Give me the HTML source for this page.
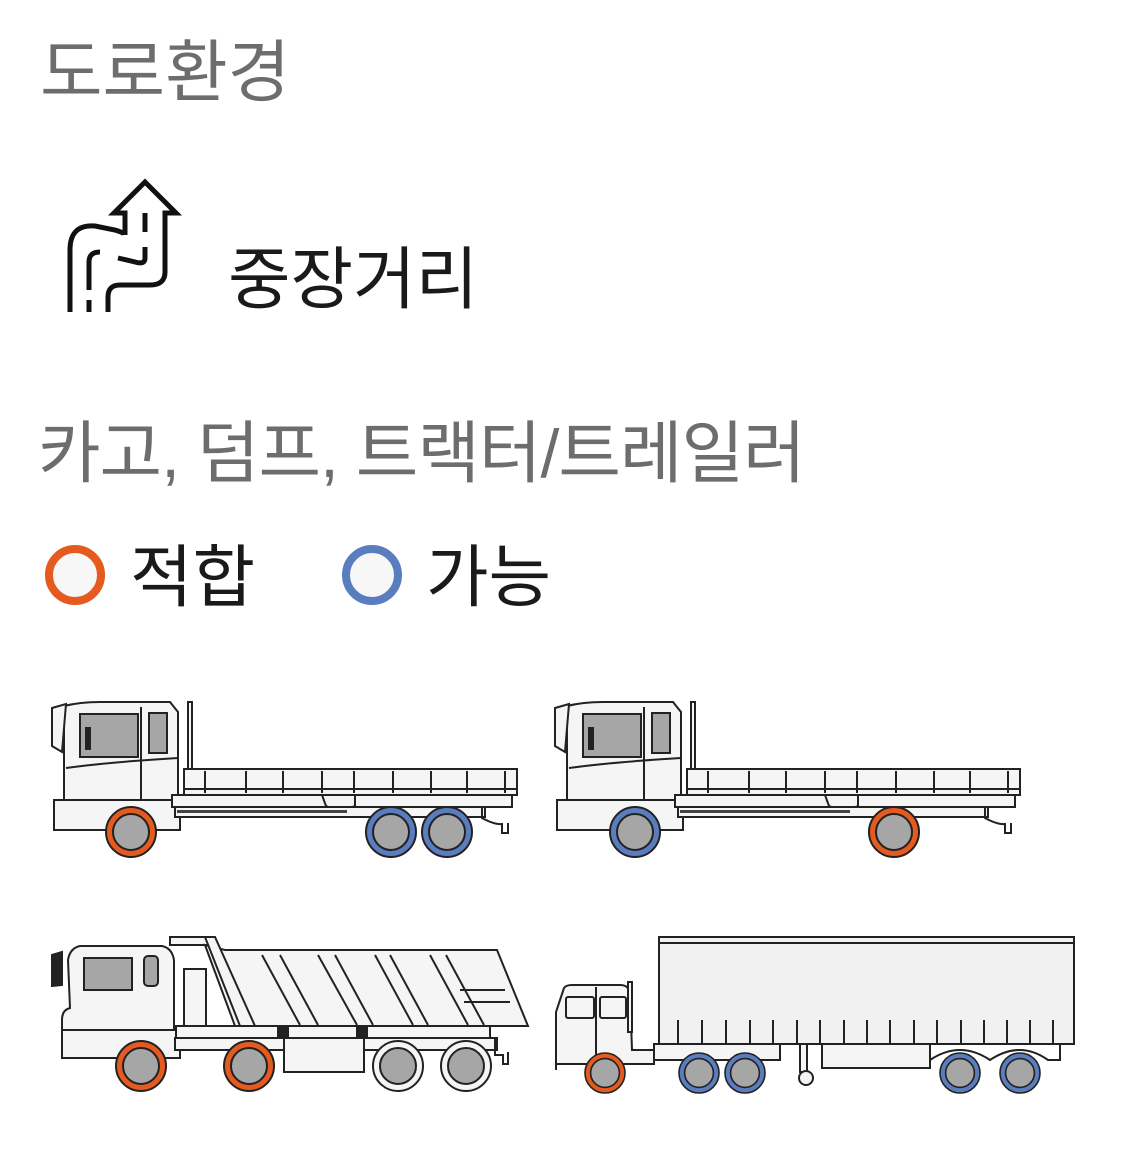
<!DOCTYPE html>
<html><head><meta charset="utf-8"><style>
html,body{margin:0;padding:0;background:#fff;}
body{width:1122px;height:1167px;position:relative;overflow:hidden;font-family:"Liberation Sans","Noto Sans CJK KR",sans-serif;}
.t{position:absolute;white-space:nowrap;line-height:1;}
</style></head><body>
<div class="t" style="left:40px;top:39px;font-size:68px;color:#6d6d6d;">도로환경</div>
<div class="t" style="left:228px;top:246px;font-size:68px;color:#1a1a1a;">중장거리</div>
<div class="t" style="left:38px;top:420px;font-size:68px;color:#6d6d6d;letter-spacing:-1px;">카고, 덤프, 트랙터/트레일러</div>
<div class="t" style="left:130px;top:544px;font-size:68px;color:#1a1a1a;">적합</div>
<div class="t" style="left:426px;top:544px;font-size:68px;color:#1a1a1a;">가능</div>
<svg width="1122" height="1167" style="position:absolute;left:0;top:0" xmlns="http://www.w3.org/2000/svg">
<circle cx="75" cy="575" r="26" fill="#f7f7f7" stroke="#e45a1f" stroke-width="8"/>
<circle cx="372" cy="575" r="26" fill="#f7f7f7" stroke="#5a7dc0" stroke-width="8"/>
<g fill="none" stroke="#111" stroke-width="5" stroke-linecap="butt" stroke-linejoin="miter">
<path d="M125 235 V213 H114 L145 182 L176 213 H165 V272 Q165 285 150 285 L120 285 Q108 285 108 297 V312"/>
<path d="M125 235 Q125 233 115 230 L95 226 Q70 224 70 250 V312"/>
<path d="M145 213 V232 M145 247 V258 Q145 265 135 262 L118 258"/>
<path d="M89 312 V300 M89 290 V262 Q89 252 100 252"/>
</g>
<defs>
<g id="cargo" stroke="#222" stroke-width="2" fill="#f5f5f5">
<path d="M54 800 H180 V830 H54 Z"/>
<path d="M64 706 Q80 702 100 702 H170 L178 712 V800 H64 Z"/>
<path d="M52 708 L66 704 L62 752 L52 746 Z"/>
<path d="M80 714 H138 V757 H80 Z" fill="#a6a6a6"/>
<rect x="85" y="727" width="6" height="23" fill="#222" stroke="none"/>
<rect x="149" y="713" width="18" height="40" fill="#a6a6a6"/>
<line x1="141" y1="707" x2="141" y2="800"/>
<path d="M66 768 Q110 762 178 758" fill="none"/>
<rect x="188" y="702" width="4" height="68"/>
<rect x="184" y="769" width="333" height="26"/>
<g fill="none"><path d="M205 771 V793 M246 771 V793 M283 771 V793 M322 771 V793 M354 771 V793 M393 771 V793 M431 771 V793 M467 771 V793 M505 771 V793 M184 789 H517"/></g>
<rect x="172" y="795" width="340" height="12"/>
<path d="M322 795 H355 V806 Q340 812 326 806 Z"/>
<rect x="175" y="807" width="310" height="10"/>
<rect x="177" y="810" width="170" height="3" fill="#444" stroke="none"/>
<path d="M482 807 V818 Q495 825 502 824 V833 H508 V823" fill="none"/>
</g>
<g id="wh"><circle r="25" stroke="#222" stroke-width="2"/><circle r="18" fill="#a6a6a6" stroke="#222" stroke-width="2"/></g>
</defs>
<use href="#cargo"/>
<use href="#cargo" x="503"/>
<use href="#wh" x="131" y="832" fill="#e45a1f"/>
<use href="#wh" x="391" y="832" fill="#5a7dc0"/>
<use href="#wh" x="447" y="832" fill="#5a7dc0"/>
<use href="#wh" x="635" y="832" fill="#5a7dc0"/>
<use href="#wh" x="894" y="832" fill="#e45a1f"/>
<!-- dump -->
<g stroke="#222" stroke-width="2" fill="#f5f5f5">
<path d="M62 1030 V1020 Q62 1010 70 1008 L68 960 Q70 948 80 946 H162 Q172 948 174 960 V1030 Z"/>
<path d="M62 1030 H180 V1058 H62 Z"/>
<path d="M52 955 L62 952 V985 L52 986 Z" fill="#222"/>
<path d="M84 958 H132 V990 H84 Z" fill="#a6a6a6"/>
<rect x="144" y="956" width="14" height="30" rx="4" fill="#a6a6a6"/>
<rect x="170" y="937" width="40" height="8"/>
<rect x="184" y="969" width="22" height="60"/>
<path d="M205 945 L225 950 H497 L528 1026 H235 Z"/>
<g fill="none"><path d="M262 955 L300 1025 M280 955 L318 1025 M318 955 L357 1025 M335 955 L373 1025 M375 955 L413 1025 M390 955 L428 1025 M430 955 L468 1025 M446 955 L484 1025 M460 990 H505 M464 1002 H510"/></g>
<path d="M205 937 L215 937 L255 1026 H240 Z"/>
<rect x="176" y="1026" width="314" height="12"/>
<rect x="278" y="1026" width="10" height="12" fill="#222"/>
<rect x="357" y="1026" width="10" height="12" fill="#222"/>
<rect x="175" y="1038" width="322" height="12"/>
<rect x="284" y="1038" width="80" height="34"/>
<path d="M495 1038 V1055 H503 V1064 H508 V1052" fill="none"/>
</g>
<use href="#wh" x="141" y="1066" fill="#e45a1f"/>
<use href="#wh" x="249" y="1066" fill="#e45a1f"/>
<use href="#wh" x="398" y="1066" fill="#f5f5f5"/>
<use href="#wh" x="466" y="1066" fill="#f5f5f5"/>
<!-- trailer -->
<g stroke="#222" stroke-width="2" fill="#f5f5f5">
<rect x="659" y="937" width="415" height="107" fill="#f1f1f1"/>
<line x1="659" y1="943" x2="1074" y2="943"/>
<g fill="none"><path d="M678 1020 V1044 M702 1020 V1044 M726 1020 V1044 M750 1020 V1044 M773 1020 V1044 M797 1020 V1044 M820 1020 V1044 M844 1020 V1044 M867 1020 V1044 M890 1020 V1044 M914 1020 V1044 M937 1020 V1044 M961 1020 V1044 M984 1020 V1044 M1007 1020 V1044 M1030 1020 V1044 M1053 1020 V1044"/></g>
<path d="M556 1070 V1012 L564 988 Q566 985 572 985 H620 Q628 985 630 992 L632 1050 H654 V1064 H556 Z"/>
<rect x="566" y="997" width="28" height="21" rx="2"/>
<rect x="600" y="997" width="26" height="21" rx="2"/>
<line x1="596" y1="987" x2="596" y2="1060"/>
<rect x="628" y="982" width="4" height="50"/>
<path d="M654 1044 H780 V1060 H654 Z"/>
<rect x="800" y="1044" width="7" height="28"/>
<circle cx="806" cy="1078" r="7"/>
<rect x="822" y="1044" width="108" height="24"/>
<path d="M930 1060 Q960 1040 990 1060 Q1020 1040 1048 1060 H1060 V1044" fill="none"/>
</g>
<use href="#wh" x="605" y="1073" fill="#e45a1f" transform="translate(605 1073) scale(0.8) translate(-605 -1073)"/>
<use href="#wh" x="699" y="1073" fill="#5a7dc0" transform="translate(699 1073) scale(0.8) translate(-699 -1073)"/>
<use href="#wh" x="745" y="1073" fill="#5a7dc0" transform="translate(745 1073) scale(0.8) translate(-745 -1073)"/>
<use href="#wh" x="960" y="1073" fill="#5a7dc0" transform="translate(960 1073) scale(0.8) translate(-960 -1073)"/>
<use href="#wh" x="1020" y="1073" fill="#5a7dc0" transform="translate(1020 1073) scale(0.8) translate(-1020 -1073)"/>
</svg>
</body></html>
